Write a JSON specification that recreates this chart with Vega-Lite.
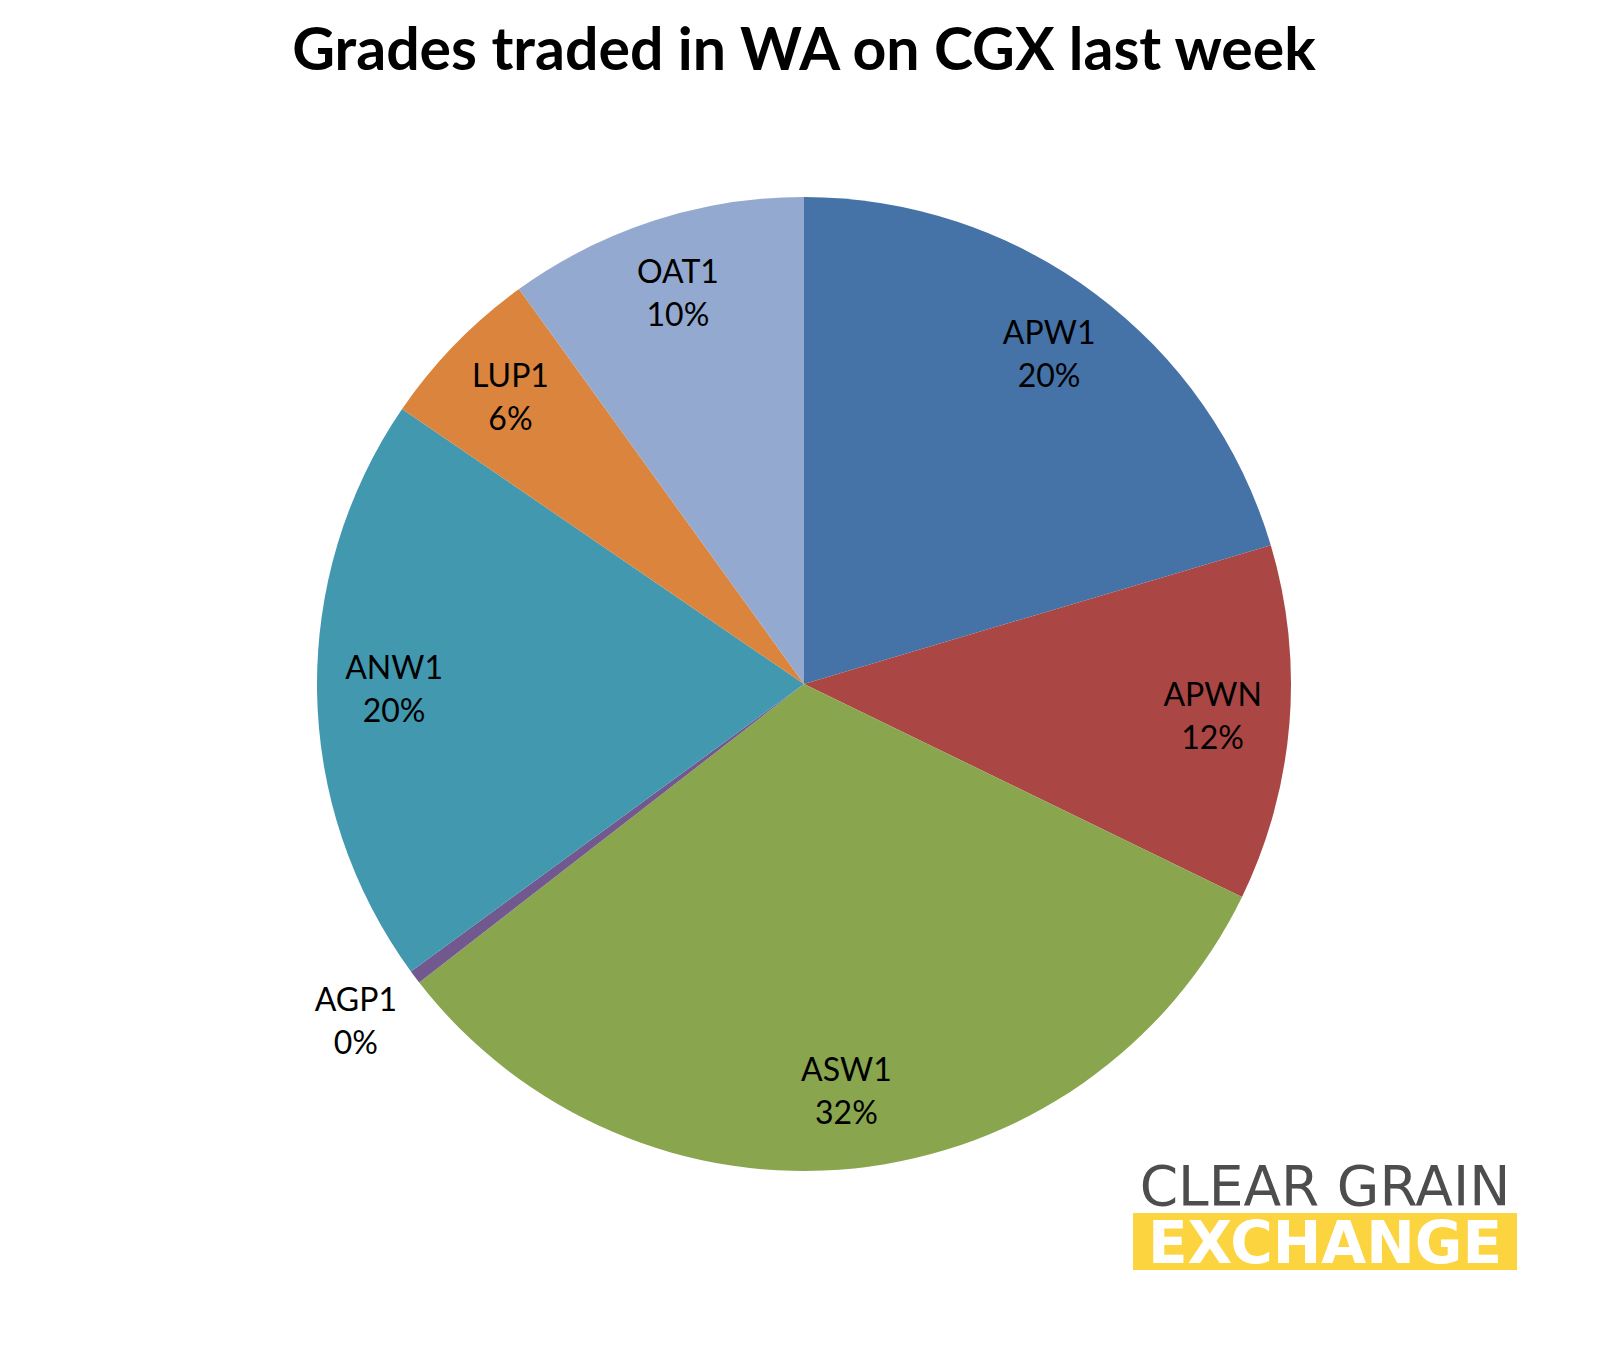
{
  "$schema": "https://vega.github.io/schema/vega-lite/v6.json",
  "autosize": {"type": "none"},
  "width": 1608,
  "height": 1108,
  "padding": {"top": 130, "left": 0, "right": 0, "bottom": 113},
  "background": "white",
  "title": {
    "text": "Grades traded in WA on CGX last week",
    "font": "Lato",
    "fontSize": 59,
    "fontWeight": "bold",
    "color": "#000000",
    "anchor": "middle",
    "offset": 31
  },
  "config": {"view": {"stroke": null}},
  "datasets": {
    "grades": [
      {"grade": "APW1", "share": 0.204, "n": 1},
      {"grade": "APWN", "share": 0.118, "n": 2},
      {"grade": "ASW1", "share": 0.323, "n": 3},
      {"grade": "AGP1", "share": 0.0045, "n": 4},
      {"grade": "ANW1", "share": 0.196, "n": 5},
      {"grade": "LUP1", "share": 0.055, "n": 6},
      {"grade": "OAT1", "share": 0.0995, "n": 7}
    ],
    "logo": [{"top": "CLEAR GRAIN", "bottom": "EXCHANGE"}]
  },
  "layer": [
    {
      "data": {"name": "grades"},
      "mark": {"type": "arc", "radius": 487, "stroke": null},
      "encoding": {
        "theta": {"field": "share", "type": "quantitative", "stack": true},
        "order": {"field": "n", "type": "quantitative"},
        "color": {
          "field": "grade",
          "type": "nominal",
          "legend": null,
          "scale": {
            "domain": ["APW1", "APWN", "ASW1", "AGP1", "ANW1", "LUP1", "OAT1"],
            "range": ["#4572A7", "#AA4643", "#89A54E", "#71588F", "#4198AF", "#DB843D", "#93A9CF"]
          }
        }
      }
    },
    {
      "data": {"name": "grades"},
      "mark": {"type": "text", "radius": 410, "dy": -21, "font": "Lato", "fontSize": 32, "color": "#000000"},
      "encoding": {
        "theta": {"field": "share", "type": "quantitative", "stack": true},
        "order": {"field": "n", "type": "quantitative"},
        "text": {"condition": {"test": "datum.grade === 'AGP1'", "value": ""}, "field": "grade", "type": "nominal"}
      }
    },
    {
      "data": {"name": "grades"},
      "mark": {"type": "text", "radius": 410, "dy": 22, "font": "Lato", "fontSize": 32, "color": "#000000"},
      "encoding": {
        "theta": {"field": "share", "type": "quantitative", "stack": true},
        "order": {"field": "n", "type": "quantitative"},
        "text": {"condition": {"test": "datum.grade === 'AGP1'", "value": ""}, "field": "share", "type": "quantitative", "format": ".0%"}
      }
    },
    {
      "data": {"name": "grades"},
      "mark": {"type": "text", "radius": 561, "dy": -21, "font": "Lato", "fontSize": 32, "color": "#000000"},
      "encoding": {
        "theta": {"field": "share", "type": "quantitative", "stack": true},
        "order": {"field": "n", "type": "quantitative"},
        "text": {"condition": {"test": "datum.grade !== 'AGP1'", "value": ""}, "field": "grade", "type": "nominal"}
      }
    },
    {
      "data": {"name": "grades"},
      "mark": {"type": "text", "radius": 561, "dy": 22, "font": "Lato", "fontSize": 32, "color": "#000000"},
      "encoding": {
        "theta": {"field": "share", "type": "quantitative", "stack": true},
        "order": {"field": "n", "type": "quantitative"},
        "text": {"condition": {"test": "datum.grade !== 'AGP1'", "value": ""}, "field": "share", "type": "quantitative", "format": ".0%"}
      }
    },
    {
      "data": {"name": "logo"},
      "mark": {"type": "rect", "color": "#FCD440"},
      "encoding": {
        "x": {"value": 1133},
        "x2": {"value": 1517},
        "y": {"value": 1083},
        "y2": {"value": 1140}
      }
    },
    {
      "data": {"name": "logo"},
      "mark": {"type": "text", "font": "DejaVu Sans", "fontSize": 55, "color": "#4D4D4D", "baseline": "alphabetic", "align": "center"},
      "encoding": {
        "x": {"value": 1325},
        "y": {"value": 1075},
        "text": {"field": "top", "type": "nominal"}
      }
    },
    {
      "data": {"name": "logo"},
      "mark": {"type": "text", "font": "DejaVu Sans", "fontSize": 58, "fontWeight": "bold", "color": "#FFFFFF", "baseline": "alphabetic", "align": "center"},
      "encoding": {
        "x": {"value": 1325},
        "y": {"value": 1133},
        "text": {"field": "bottom", "type": "nominal"}
      }
    }
  ]
}
